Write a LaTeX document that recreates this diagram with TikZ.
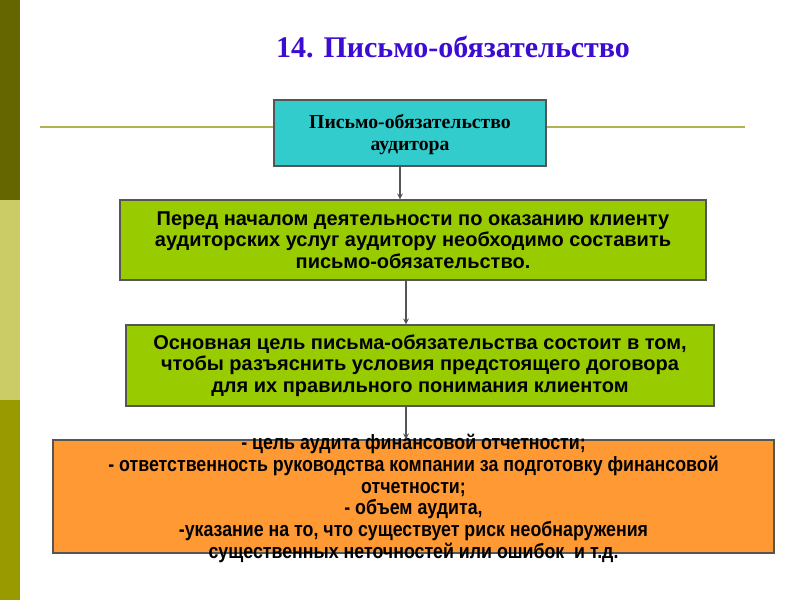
\documentclass[tikz,border=0pt]{standalone}
\usepackage{fontspec}
\setmainfont{Liberation Serif}
\setsansfont{Liberation Sans}
\newfontfamily\narrowfont[FakeStretch=0.86]{Liberation Sans}
\definecolor{barDark}{RGB}{102,102,0}
\definecolor{barLight}{RGB}{204,204,102}
\definecolor{barMid}{RGB}{153,153,0}
\definecolor{ruleOlive}{RGB}{178,178,80}
\definecolor{titleBlue}{RGB}{60,12,210}
\definecolor{boxTeal}{RGB}{51,204,204}
\definecolor{boxGreen}{RGB}{153,204,0}
\definecolor{boxOrange}{RGB}{255,153,51}
\definecolor{edgeGray}{RGB}{85,85,85}
\tikzset{
  block/.style={draw=edgeGray, line width=1.1pt, align=center, inner sep=0pt},
  arr/.style={->, >=stealth, draw=edgeGray, line width=0.9pt}
}
\begin{document}
\begin{tikzpicture}[x=0.75pt,y=-0.75pt]
  \useasboundingbox (0,0) rectangle (800,600);
  % side bar
  \fill[barDark] (0,0) rectangle (20,200);
  \fill[barLight] (0,200) rectangle (20,400);
  \fill[barMid] (0,400) rectangle (20,600);
  \draw[ruleOlive, line width=1.5pt] (40,127) -- (745,127);
  % title
  \node[text=titleBlue, font=\fontsize{22.5}{26}\selectfont\bfseries] (title) at (453,47) {14. Письмо-обязательство};
  % boxes
  \node[block, fill=boxTeal, minimum width=272*0.75pt, minimum height=66*0.75pt,
        font=\fontsize{14.8}{17}\selectfont\bfseries] (aud) at (410,133)
        {\rule{0pt}{13pt}Письмо-обязательство\\аудитора};
  \node[block, fill=boxGreen, minimum width=586*0.75pt, minimum height=80*0.75pt,
        font=\sffamily\fontsize{15}{16.2}\selectfont\bfseries] (before) at (413,240)
        {Перед началом деятельности по оказанию клиенту\\аудиторских услуг аудитору необходимо составить\\письмо-обязательство.};
  \node[block, fill=boxGreen, minimum width=588*0.75pt, minimum height=81*0.75pt,
        font=\sffamily\fontsize{15}{16.2}\selectfont\bfseries] (goal) at (420,365.5)
        {Основная цель письма-обязательства состоит в том,\\чтобы разъяснить условия предстоящего договора\\для их правильного понимания клиентом};
  \node[block, fill=boxOrange, minimum width=721*0.75pt, minimum height=113*0.75pt] (terms) at (413.5,496.5) {};
  \node[align=center, inner sep=0pt, font=\narrowfont\fontsize{15.5}{16.3}\selectfont\bfseries] (termsText) at (413.5,498.5)
        {- цель аудита финансовой отчетности;\\- ответственность руководства компании за подготовку финансовой\\отчетности;\\- объем аудита,\\-указание на то, что существует риск необнаружения\\существенных неточностей или ошибок\ \ и т.д.};
  % connectors
  \draw[arr] (aud.south -| 400,0) -- (before.north -| 400,0);
  \draw[arr] (before.south -| 406,0) -- (goal.north -| 406,0);
  \draw[arr] (goal.south -| 406,0) -- (terms.north -| 406,0);
\end{tikzpicture}
\end{document}
